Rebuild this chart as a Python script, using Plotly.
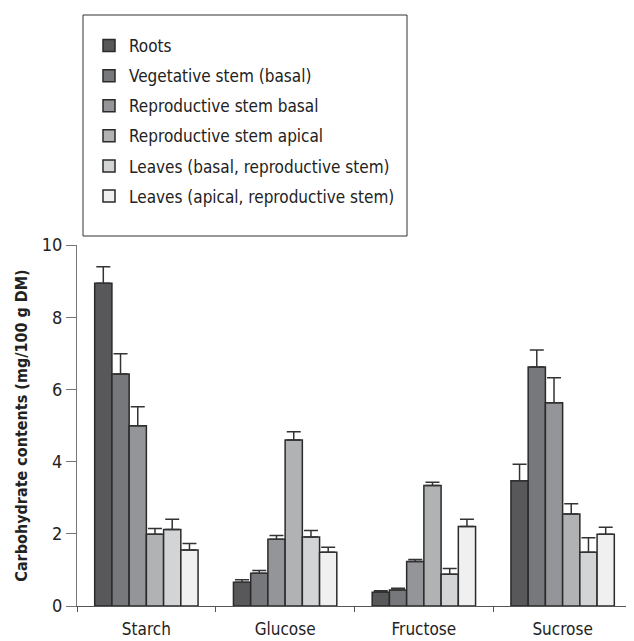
import plotly.graph_objects as go

categories = ["Starch", "Glucose", "Fructose", "Sucrose"]
series_names = [
    "Roots",
    "Vegetative stem (basal)",
    "Reproductive stem basal",
    "Reproductive stem apical",
    "Leaves (basal, reproductive stem)",
    "Leaves (apical, reproductive stem)",
]
roots = [8.94, 0.66, 0.38, 3.47]
veg_stem = [6.43, 0.91, 0.44, 6.62]
rep_basal = [4.99, 1.85, 1.23, 5.63]
rep_apical = [1.99, 4.60, 3.34, 2.55]
leaves_basal = [2.12, 1.91, 0.88, 1.49]
leaves_apical = [1.55, 1.49, 2.20, 1.99]

roots_err = [0.46, 0.07, 0.04, 0.46]
veg_stem_err = [0.56, 0.07, 0.05, 0.47]
rep_basal_err = [0.53, 0.10, 0.06, 0.69]
rep_apical_err = [0.16, 0.23, 0.09, 0.28]
leaves_basal_err = [0.28, 0.18, 0.16, 0.40]
leaves_apical_err = [0.18, 0.14, 0.20, 0.19]

values = [roots, veg_stem, rep_basal, rep_apical, leaves_basal, leaves_apical]
errors = [roots_err, veg_stem_err, rep_basal_err, rep_apical_err, leaves_basal_err, leaves_apical_err]
colors = ["#58585a", "#77787b", "#949598", "#b0b2b4", "#d3d4d6", "#f0f0f0"]

FONT = "DejaVu Sans Condensed"

fig = go.Figure()
for i, (name, vals, errs, col) in enumerate(zip(series_names, values, errors, colors)):
    fig.add_trace(go.Bar(
        x=categories, y=vals, name=name, legendgroup=f"g{i}",
        marker=dict(color=col, line=dict(color="#2a2a2a", width=1.5)),
        error_y=dict(type="data", symmetric=False, array=errs,
                     arrayminus=[0] * len(errs), color="#333333",
                     thickness=1.5, width=7),
    ))

# page has an 8px body margin, so the figure is sized to fit inside the window
fig.update_layout(
    width=626, height=633,
    margin=dict(l=69, r=2, t=237, b=35, autoexpand=False),
    paper_bgcolor="white", plot_bgcolor="white",
    font=dict(family=FONT, color="#222222", size=16),
    barmode="group", bargap=0.255, bargroupgap=0,
    showlegend=True,
    legend=dict(
        xref="paper", yref="paper",
        x=(89 - 77) / 555, y=(606 - 28) / 361, xanchor="left", yanchor="top",
        font=dict(family=FONT, size=17, color="#222222"),
        tracegroupgap=5, bgcolor="rgba(0,0,0,0)",
    ),
    shapes=[dict(type="rect", xref="paper", yref="paper",
                 x0=(83 - 77) / 555, x1=(407 - 77) / 555,
                 y0=(606 - 236) / 361, y1=(606 - 15) / 361,
                 line=dict(color="#333333", width=1), fillcolor="rgba(0,0,0,0)")],
)
fig.update_xaxes(
    showline=True, linecolor="#555555", linewidth=1,
    ticks="outside", tickson="boundaries", ticklen=5, tickcolor="#555555",
    tickfont=dict(size=17), ticklabelstandoff=8, showgrid=False,
)
fig.update_yaxes(
    range=[0, 10], tickvals=[0, 2, 4, 6, 8, 10],
    showline=True, linecolor="#777777", linewidth=1,
    ticks="outside", ticklen=10, tickcolor="#777777",
    tickfont=dict(size=18), showgrid=False, zeroline=False,
    title=dict(text="<b>Carbohydrate contents (mg/100 g DM)</b>",
               font=dict(size=16), standoff=10),
)
fig.write_html("out.html")
